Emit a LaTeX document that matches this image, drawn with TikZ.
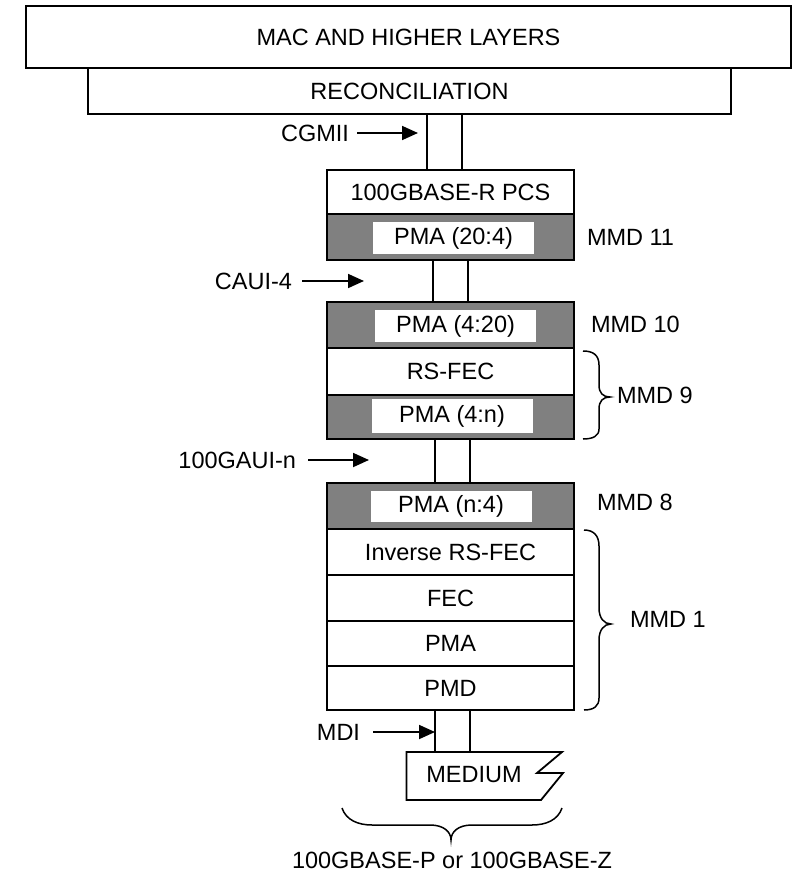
\documentclass[tikz,border=0pt]{standalone}
\usepackage{fontspec}
\setmainfont{Liberation Sans}
\usetikzlibrary{arrows.meta}
\begin{document}
\begin{tikzpicture}[x=1pt,y=-1pt,
  every node/.style={font=\fontsize{23.5}{28}\selectfont, inner sep=0pt, outer sep=0pt},
  layer/.style={draw, line width=1.8pt, fill=white, minimum width=247pt},
  darklayer/.style={draw, line width=1.8pt, fill=black!50, minimum width=247pt, minimum height=46pt},
  innerbox/.style={fill=white, minimum width=161pt, minimum height=32pt},
  conn/.style={line width=1.8pt},
  arr/.style={line width=1.8pt, -{Triangle[length=16pt,width=14pt]}},
  bracepath/.style={line width=1.5pt},
  lbl/.style={anchor=west},
  ifl/.style={anchor=east}
]
\useasboundingbox[fill=white] (0,0) rectangle (798,872);

% top boxes
\node[draw, line width=1.8pt, fill=white, minimum width=643pt, minimum height=46pt] (recon) at (409.5,91) {RECONCILIATION};
\node[draw, line width=1.8pt, fill=white, minimum width=765pt, minimum height=62pt] (mac) at (408.5,37) {MAC AND HIGHER LAYERS};

% stack 1
\node[layer, minimum height=44pt] (pcs) at (450.5,192) {100GBASE-R PCS};
\node[darklayer] (pmaA) at (450.5,237) {};
\node[innerbox] (pmaAt) at (453.5,238) {PMA (20:4)};

% stack 2
\node[darklayer] (pmaB) at (450.5,325) {};
\node[innerbox] (pmaBt) at (455.5,326) {PMA (4:20)};
\node[layer, minimum height=47pt] (rsfec) at (450.5,371.5) {RS-FEC};
\node[darklayer, minimum height=44pt] (pmaC) at (450.5,417) {};
\node[innerbox, minimum height=34pt] (pmaCt) at (452,416) {PMA (4:n)};

% stack 3
\node[darklayer] (pmaD) at (450.5,506) {};
\node[innerbox, minimum height=31pt] (pmaDt) at (451,506) {PMA (n:4)};
\node[layer, minimum height=46pt] (irs) at (450.5,552) {Inverse RS-FEC};
\node[layer, minimum height=46pt] (fec) at (450.5,598) {FEC};
\node[layer, minimum height=45pt] (pma) at (450.5,643.5) {PMA};
\node[layer, minimum height=44pt] (pmd) at (450.5,688) {PMD};

% medium
\draw[line width=1.8pt, fill=white] (406.5,752) -- (562,752) -- (537,773) -- (563,773) -- (541,800) -- (406.5,800) -- cycle;
\node (medium) at (474,775) {MEDIUM};
\coordinate (medtop) at (470,752);

% vertical connector x positions
\coordinate (xa) at (427,0);
\coordinate (xb) at (462,0);
\coordinate (xc) at (433,0);
\coordinate (xd) at (468,0);
\coordinate (xe) at (435,0);
\coordinate (xf) at (470,0);

\draw[conn] (recon.south -| xa) -- (pcs.north -| xa);
\draw[conn] (recon.south -| xb) -- (pcs.north -| xb);
\draw[conn] (pmaA.south -| xc) -- (pmaB.north -| xc);
\draw[conn] (pmaA.south -| xd) -- (pmaB.north -| xd);
\draw[conn] (pmaC.south -| xe) -- (pmaD.north -| xe);
\draw[conn] (pmaC.south -| xf) -- (pmaD.north -| xf);
\draw[conn] (pmd.south -| xe) -- (medtop -| xe);
\draw[conn] (pmd.south -| xf) -- (medtop -| xf);

% interface labels
\node[ifl] (cgmii) at (349,133) {CGMII};
\coordinate (cgmiiT) at (418,133);
\draw[arr] ([xshift=8pt]cgmii.east) -- (cgmiiT);

\node[ifl] (caui) at (292,281) {CAUI-4};
\coordinate (cauiT) at (364,281);
\draw[arr] ([xshift=10pt]caui.east) -- (cauiT);

\node[ifl] (gaui) at (296,460) {100GAUI-n};
\coordinate (gauiT) at (369,460);
\draw[arr] ([xshift=12pt]gaui.east) -- (gauiT);

\node[ifl] (mdi) at (360,732) {MDI};
\coordinate (mdiT) at (435,732);
\draw[arr] ([xshift=13pt]mdi.east) -- (mdiT);

% MMD labels
\node[lbl] (mmd11) at (587,237) {MMD 11};
\node[lbl] (mmd10) at (591,324) {MMD 10};
\node[lbl] (mmd9) at (617,395) {MMD 9};
\node[lbl] (mmd8) at (597,502) {MMD 8};
\node[lbl] (mmd1) at (630,619) {MMD 1};

% braces
\draw[bracepath] (583,351) .. controls (593,351) and (599,355) .. (599,365) -- (599,385) .. controls (599,393) and (603,397) .. (610,397) .. controls (603,397) and (599,401) .. (599,409) -- (599,429) .. controls (599,436) and (593,439) .. (583,439);
\draw[bracepath] (584,530) .. controls (594,530) and (599,536) .. (599,546) -- (599,608) .. controls (599,618) and (604,624) .. (611,624) .. controls (604,624) and (599,630) .. (599,640) -- (599,698) .. controls (599,706) and (594,710) .. (584,710);
\draw[bracepath] (342,808) .. controls (346,820) and (358,825) .. (372,825) -- (430,825) .. controls (444,825) and (451,832) .. (451,840) .. controls (451,832) and (458,825) .. (472,825) -- (532,825) .. controls (546,825) and (558,820) .. (562,808);

\node (phy) at (452,860) {100GBASE-P or 100GBASE-Z};
\end{tikzpicture}
\end{document}
